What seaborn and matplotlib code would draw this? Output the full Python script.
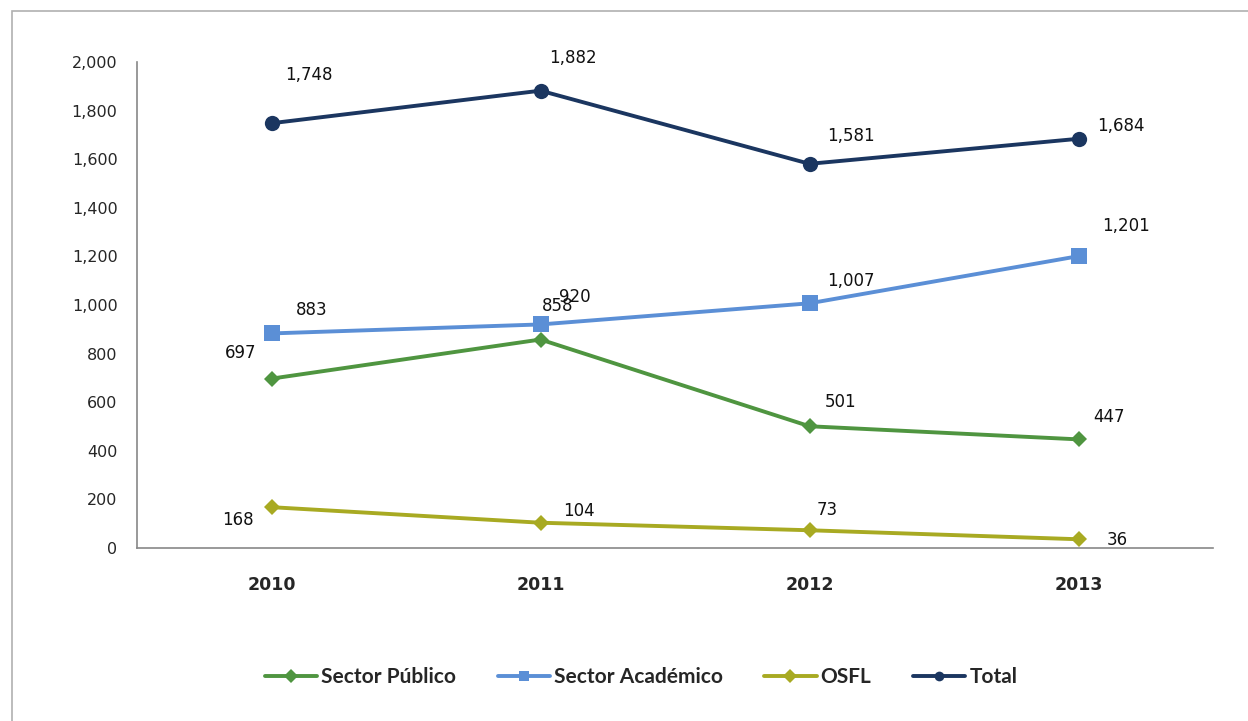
import matplotlib
matplotlib.use("Agg")
import matplotlib.pyplot as plt
from matplotlib.patches import Rectangle
from matplotlib.lines import Line2D
import seaborn as sns
import pandas as pd

years = ["2010", "2011", "2012", "2013"]
series_names = ["Sector Público", "Sector Académico", "OSFL", "Total"]
publico = [697, 858, 501, 447]
academico = [883, 920, 1007, 1201]
osfl = [168, 104, 73, 36]
total = [1748, 1882, 1581, 1684]

colors = {"Sector Público": "#4f9540", "Sector Académico": "#5b8fd6",
          "OSFL": "#a8aa22", "Total": "#1b3660"}
markers = {"Sector Público": "D", "Sector Académico": "s", "OSFL": "D", "Total": "o"}
msizes = {"Sector Público": 8, "Sector Académico": 11, "OSFL": 8, "Total": 11}

# label offsets in pixels (dx, dy up)
label_offsets = {
    "Sector Público": [(-31, 26), (17, 34), (31, 24), (31, 22)],
    "Sector Académico": [(40, 23), (34, 27), (41, 22), (47, 30)],
    "OSFL": [(-34, -13), (38, 12), (18, 20), (39, -1)],
    "Total": [(37, 48), (32, 33), (41, 28), (42, 13)],
}

values = {"Sector Público": publico, "Sector Académico": academico,
          "OSFL": osfl, "Total": total}
rows = []
for name in series_names:
    for i, v in enumerate(values[name]):
        rows.append({"pos": i, "year": years[i], "serie": name, "valor": v})
df = pd.DataFrame(rows)

sns.set_style("white")
plt.rcParams['font.family'] = ['DejaVu Sans']

fig = plt.figure(figsize=(12.48, 7.21), dpi=100)
ax = fig.add_axes([137 / 1248, 1 - 548 / 721, (1213 - 137) / 1248, (548 - 62) / 721])

# chart frame
fig.patches.append(Rectangle((12 / 1248, -0.01), 1.0, 1 - 11 / 721 + 0.01, transform=fig.transFigure,
                             fill=False, edgecolor="#b0b0b0", linewidth=1.2, zorder=0))

for name in series_names:
    sub = df[df["serie"] == name]
    sns.lineplot(data=sub, x="pos", y="valor", ax=ax, color=colors[name], linewidth=2.8,
                 marker=markers[name], markersize=msizes[name], markeredgewidth=0,
                 legend=False)
    for i, v in enumerate(values[name]):
        dx, dy = label_offsets[name][i]
        ax.annotate(f"{v:,}", (i, v), xytext=(dx, dy), textcoords="offset pixels",
                    ha="center", va="center", fontsize=12, color="#111111")

ax.set_xlim(-0.5, 3.5)
ax.set_ylim(0, 2000)
ax.set_yticks(range(0, 2001, 200))
ax.set_yticklabels([f"{t:,}" for t in range(0, 2001, 200)], fontsize=11.5)
ax.set_xticks(range(4))
ax.set_xticklabels(years, fontsize=12.5, fontweight="bold")
ax.set_xticks([-0.5, 0.5, 1.5, 2.5, 3.5], minor=True)
ax.tick_params(axis="x", which="major", length=0, pad=20)
ax.tick_params(axis="x", which="minor", length=6, direction="out", color="#888888", width=1)
ax.tick_params(axis="y", length=6, direction="out", color="#888888", width=1, pad=8)
ax.set_xlabel("")
ax.set_ylabel("")
for s in ["top", "right"]:
    ax.spines[s].set_visible(False)
for s in ["left", "bottom"]:
    ax.spines[s].set_color("#888888")
    ax.spines[s].set_linewidth(1.2)

handles = [Line2D([], [], color=colors[n], linewidth=2.8, marker=markers[n],
                  markersize=7, markeredgewidth=0) for n in series_names]
fig.legend(handles, series_names, loc="center", bbox_to_anchor=(641 / 1248, 1 - 677 / 721), ncol=4,
           frameon=False, handlelength=2.5, handletextpad=0.2, columnspacing=2.0,
           prop={"family": "Lato", "weight": "bold", "size": 15})

fig.savefig("out.png", dpi=100)
